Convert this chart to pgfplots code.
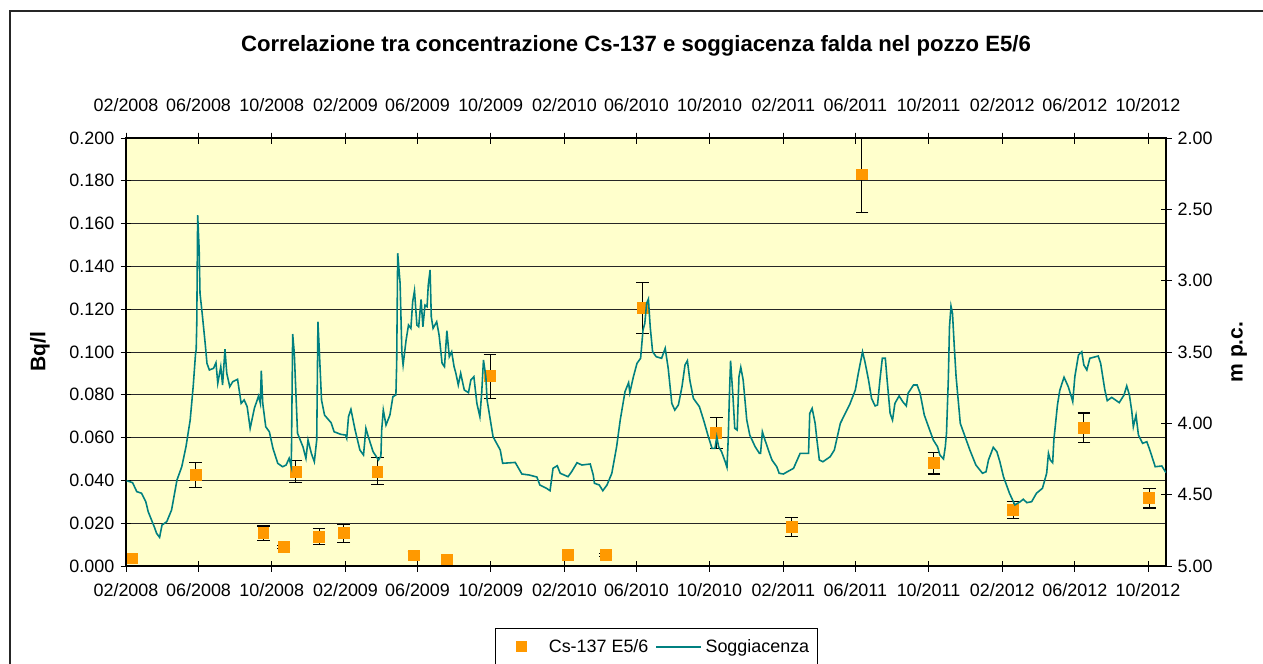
\documentclass[border=0pt]{standalone}
\usepackage{fontspec}
\setmainfont{Liberation Sans}
\usepackage{pgfplots}
\pgfplotsset{compat=1.18}
\definecolor{cBg}{HTML}{FFFFCC}
\definecolor{cOrange}{HTML}{FF9900}
\definecolor{cLine}{HTML}{008080}
\newcommand\tickfont{\fontsize{10.2pt}{12pt}\selectfont}
\newcommand\labfont{\fontsize{12pt}{14pt}\selectfont\bfseries}

% x = days since 01/02/2008
\pgfplotsset{
  datebase/.style={
    at={(2.52cm,-11.32cm)}, anchor=south west,
    scale only axis, width=20.8cm, height=8.56cm,
    xmin=0, xmax=1734,
    xtick={0,121,243,366,486,608,731,851,973,1096,1216,1338,1461,1582,1704},
    xticklabels={02/2008,06/2008,10/2008,02/2009,06/2009,10/2009,02/2010,06/2010,
                 10/2010,02/2011,06/2011,10/2011,02/2012,06/2012,10/2012},
    tick align=center, major tick length=0.22cm,
    tick style={black, line width=0.5pt},
    axis line style={black, line width=0.6pt},
    ticklabel style={font=\tickfont},
    scaled y ticks=false,
  }
}

\begin{document}
\begin{tikzpicture}
\useasboundingbox (0,0) rectangle (25.26cm,-13.28cm);
\draw[black!85, line width=0.9pt] (0.2cm,-0.22cm) rectangle (26cm,-14cm);
\node[font=\fontsize{12.6pt}{15pt}\selectfont\bfseries] at (12.72cm,-0.92cm)
  {Correlazione tra concentrazione Cs-137 e soggiacenza falda nel pozzo E5/6};

% ---- left axis: Cs-137 (Bq/l) ----
\begin{axis}[
  datebase,
  ymin=0, ymax=0.2,
  axis background/.style={fill=cBg},
  xtick pos=both, xticklabel pos=lower,
  xticklabel style={yshift=-0.12cm},
  ytick={0,0.02,0.04,0.06,0.08,0.1,0.12,0.14,0.16,0.18,0.2},
  ytick pos=left,
  ymajorgrids, grid style={black!85, line width=0.5pt},
  yticklabel style={/pgf/number format/.cd, fixed, fixed zerofill, precision=3, assume math mode=true},
  ylabel={Bq/l},
  ylabel style={font=\labfont, at={(axis description cs:-0.0827,0.5)}, anchor=center},
  legend style={
    at={(0.5101,-0.1449)}, anchor=north,
    draw=black, line width=0.6pt, fill=white,
    font=\tickfont, inner xsep=2.5pt, inner ysep=4pt,
    /tikz/every even column/.append style={column sep=0.07cm},
  },
  legend columns=2,
]

\addplot[
  only marks, mark=square*, mark size=3.1pt,
  mark options={fill=cOrange, draw=cOrange},
  legend image code/.code={
    \fill[cOrange, draw=none] (0.42cm,0cm) +(-3.1pt,-3.1pt) rectangle +(3.1pt,3.1pt);
    \path[draw=none, fill=none] (0cm,0cm) -- (0.9cm,0cm);},
  error bars/.cd, y dir=both, y explicit,
  error bar style={black, line width=0.6pt},
  error mark options={rotate=90, mark size=3.6pt, black, line width=0.6pt},
] table[x=d, y=v, y error=e] {
d      v       e
116    0.0426  0.0059
229    0.0153  0.0034
263    0.0089  0.0008
283    0.0442  0.0051
322    0.0137  0.0037
363    0.0153  0.0043
419    0.0442  0.0063
480    0.0050  0.0020
607    0.0887  0.0103
800    0.0052  0.0008
861    0.1205  0.0120
984    0.0621  0.0071
1110   0.0184  0.0044
1227   0.1830  0.0180
1347   0.0481  0.0051
1479   0.0262  0.0039
1597   0.0645  0.0070
1706   0.0317  0.0046
};
\addlegendentry{Cs-137 E5/6}

% samples with no error bar drawn
\addplot[
  only marks, mark=square*, mark size=3.1pt,
  mark options={fill=cOrange, draw=cOrange}, forget plot,
] coordinates {(9.5,0.0036)(535,0.0028)(736,0.0052)};

\addlegendimage{legend image code/.code={\draw[cLine, line width=0.9pt] (0cm,0cm) -- (0.9cm,0cm);}}
\addlegendentry{Soggiacenza}
\end{axis}

% ---- right axis: depth to water (m p.c.) ----
\begin{axis}[
  datebase,
  ymin=2, ymax=5, y dir=reverse,
  xtick pos=upper, xticklabel pos=upper,
  xticklabel style={yshift=0.3cm},
  ytick={2,2.5,3,3.5,4,4.5,5},
  ytick pos=right, yticklabel pos=right,
  yticklabel style={/pgf/number format/.cd, fixed, fixed zerofill, precision=2, assume math mode=true},
  ylabel={m p.c.},
  ylabel style={font=\labfont, at={(axis description cs:1.0702,0.5)}, anchor=center},
]
\addplot[color=cLine, line width=0.9pt] coordinates {
(1,4.402)(11,4.416)(18,4.479)(26,4.490)(33,4.549)(37,4.619)(47,4.724)(51,4.771)(56,4.799)(60,4.713)
(68,4.689)(76,4.607)(85,4.397)(93,4.304)(100,4.164)(107,3.977)(112,3.743)(116,3.509)(117,3.486)(118,3.299)
(119.5,2.540)(122,2.785)(123.4,3.089)(127,3.229)(132,3.439)(135,3.579)(139,3.626)(146,3.614)(150,3.575)(153,3.719)
(158,3.603)(161,3.731)(165,3.481)(168,3.649)(173,3.743)(178,3.708)(186,3.691)(192,3.860)(197,3.836)(202,3.883)
(207,4.035)(214,3.895)(221,3.808)(224,3.860)(225.6,3.631)(228,3.860)(233,4.024)(239,4.059)(245,4.175)(253,4.280)
(261,4.304)(267,4.292)(272,4.245)(275.6,4.304)(277.9,3.374)(280.6,3.509)(286,4.070)(295,4.164)(300,4.245)(303.5,4.117)
(309,4.210)(314,4.269)(318,4.117)(320,3.288)(322,3.463)(326,3.836)(331,3.942)(342,3.996)(347,4.059)(358,4.077)
(366,4.082)(368,4.105)(371,3.953)(375,3.902)(382,4.047)(390,4.187)(396,4.222)(400,4.035)(404,4.094)(412,4.199)
(421,4.257)(425,4.229)(426.3,4.047)(429,3.907)(433.5,4.012)(440,3.942)(445,3.813)(450,3.801)(451.3,3.579)(453,2.808)
(457,3.018)(460,3.509)(462,3.591)(467,3.416)(471,3.311)(475,3.334)(478,3.147)(481,3.070)(485,3.311)(488,3.323)
(492,3.131)(495,3.323)(498.5,3.171)(502,3.182)(504,3.030)(507,2.925)(509,3.253)(512,3.334)(518,3.288)(522,3.381)
(527,3.579)(531,3.603)(535,3.351)(539,3.533)(543,3.498)(547,3.603)(550,3.649)(554,3.731)(558,3.649)(564,3.766)
(571,3.785)(575,3.696)(580,3.673)(585,3.860)(590,3.953)(593,3.789)(596,3.556)(600,3.673)(602,3.836)(607,3.965)
(612,4.094)(624,4.187)(628,4.280)(649,4.274)(660,4.355)(672,4.362)(685,4.376)(690,4.432)(701,4.455)(707,4.472)
(712,4.315)(719,4.297)(724,4.350)(737,4.374)(743,4.339)(752,4.276)(760,4.292)(774,4.285)(779,4.362)(781,4.420)
(789,4.432)(795,4.472)(802,4.432)(810,4.350)(818,4.164)(824,3.977)(832,3.778)(838,3.715)(840,3.785)(846,3.673)
(852,3.579)(858,3.544)(862,3.346)(865,3.299)(868,3.159)(871,3.129)(874,3.323)(878,3.498)(884,3.533)(893,3.544)
(899,3.474)(904,3.614)(910,3.860)(915,3.907)(921,3.871)(927,3.743)(932,3.591)(936,3.561)(940,3.696)(946,3.825)
(956,3.883)(963,3.977)(971,4.094)(977,4.175)(982,4.175)(985,4.094)(988,4.164)(993,4.199)(999,4.269)(1002,4.308)
(1004,4.117)(1006,3.813)(1008,3.561)(1012,3.813)(1015,4.035)(1019,4.047)(1022,3.673)(1025,3.607)(1029,3.696)(1035,3.977)
(1040,4.082)(1049,4.164)(1056,4.210)(1058,4.210)(1061,4.059)(1065,4.112)(1071,4.187)(1077,4.257)(1085,4.304)(1089,4.350)
(1096,4.355)(1113,4.315)(1124,4.210)(1138,4.210)(1140,3.930)(1144,3.895)(1149,4.000)(1152,4.117)(1156,4.257)(1162,4.269)
(1174,4.234)(1181,4.187)(1191,4.000)(1207,3.864)(1216,3.766)(1221,3.649)(1228,3.498)(1232,3.568)(1238,3.696)(1243,3.825)
(1249,3.878)(1253,3.871)(1257,3.696)(1261,3.544)(1266,3.544)(1269,3.696)(1274,3.930)(1278,3.977)(1282,3.860)(1289,3.808)
(1295,3.848)(1301,3.878)(1304,3.789)(1313,3.731)(1319,3.731)(1324,3.789)(1331,3.942)(1338,4.024)(1346,4.117)(1353,4.164)
(1357,4.222)(1363,4.250)(1366,4.164)(1368,4.070)(1371,3.696)(1373,3.323)(1375.5,3.178)(1378,3.229)(1381,3.463)(1384,3.673)
(1391,4.000)(1399,4.094)(1407,4.187)(1417,4.292)(1428,4.350)(1434,4.339)(1438,4.257)(1446,4.168)(1452,4.199)(1457,4.269)
(1463,4.374)(1473,4.490)(1482,4.572)(1491,4.549)(1496,4.532)(1502,4.556)(1510,4.549)(1518,4.490)(1528,4.455)(1535,4.350)
(1538,4.210)(1541,4.257)(1545,4.276)(1547,4.117)(1553,3.871)(1557,3.766)(1564,3.677)(1571,3.743)(1577,3.825)(1578.5,3.848)
(1582,3.673)(1588,3.521)(1593.5,3.498)(1597,3.591)(1602,3.626)(1607,3.544)(1621,3.528)(1625,3.579)(1632,3.766)(1636,3.841)
(1643.5,3.818)(1656,3.855)(1664,3.801)(1668.5,3.738)(1673,3.801)(1677,3.918)(1679.5,4.024)(1684,3.942)(1688,4.082)(1695,4.140)
(1702,4.129)(1707,4.187)(1716,4.304)(1727,4.299)(1734,4.346)
};
\end{axis}
\end{tikzpicture}
\end{document}
